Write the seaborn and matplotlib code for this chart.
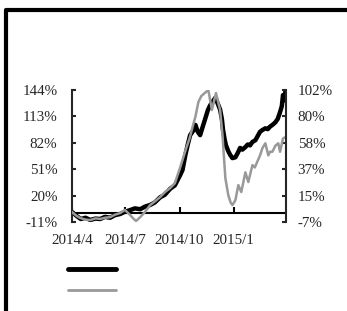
# %% Requirements and constants
import numpy as np
import pandas as pd
import seaborn as sns
import matplotlib.pyplot as plt
from matplotlib.lines import Line2D

start = pd.Timestamp('2014-04-01')

# black series (left axis, %), day offsets from 2014-04-01
black_days = [0, 8, 15, 23, 31, 40, 48, 56, 65, 73, 82, 90, 99, 107, 116, 124, 133, 141,
              150, 158, 167, 175, 184, 188, 193, 197, 201, 206, 210, 214, 218, 222, 227,
              231, 235, 240, 244, 248, 252, 255, 257, 260, 262, 266, 269, 273, 278, 282,
              286, 290, 295, 299, 303, 307, 312, 316, 320, 324, 329, 333, 337, 341, 346,
              350, 354, 357, 359, 361, 363]
black_vals = [0.8, -4, -7.5, -6, -8.6, -7, -7.5, -5, -6, -3, -1.6, 1, 3, 5, 4, 7, 9, 12,
              18, 21, 28, 32, 44, 50, 68, 80, 91, 96, 103, 95, 91, 100, 111, 120, 126,
              131, 135, 128, 121, 110, 97, 85, 79, 72, 68, 64, 65, 70, 76, 74, 77, 80,
              79, 83, 85, 90, 95, 97, 99, 98, 101, 103, 106, 110, 118, 125, 138, 132, 142]

# gray series (right axis, %)
gray_days = [0, 8, 14, 23, 31, 40, 48, 56, 65, 73, 82, 90, 99, 104, 109, 116, 124, 133,
             141, 150, 158, 167, 175, 184, 193, 200, 206, 210, 215, 220, 227, 232, 238,
             245, 252, 256, 261, 266, 270, 273, 278, 283, 288, 295, 300, 307, 311, 315,
             320, 324, 329, 334, 337, 341, 346, 351, 354, 359, 363]
gray_vals = [1.2, -2, -3.7, -5, -5.4, -4, -4.5, -3.5, -3, -1, 0.4, 3, -1.3, -4, -6.2,
             -3, 1.2, 7, 10, 13.6, 17.7, 21, 25, 38, 52, 62, 73, 80, 92, 97, 100, 102,
             85.5, 99.5, 85.5, 65, 29, 15, 9, 7, 11, 23.5, 17.7, 34, 26, 40, 38, 42.5,
             48, 54, 58, 48, 51, 51, 56, 58, 51, 62, 63]

left_ticks = [-11, 20, 51, 82, 113, 144]
right_lim = (-7, 102)
date_ticks = ['2014-04-01', '2014-07-01', '2014-10-01', '2015-01-01']
date_labels = ['2014/4', '2014/7', '2014/10', '2015/1']

black = pd.DataFrame({'date': start + pd.to_timedelta(black_days, unit='D'), 'v': black_vals})
gray = pd.DataFrame({'date': start + pd.to_timedelta(gray_days, unit='D'), 'v': gray_vals})

# %% Plot
sns.set_style('white')
plt.rcParams['font.family'] = ['Liberation Serif', 'DejaVu Serif']
plt.rcParams['font.size'] = 10.8

fig = plt.figure(figsize=(3.47, 3.11), dpi=100)
ax = fig.add_axes([0.2075, 0.2862, 0.6165, 0.4244])
ax2 = ax.twinx()

sns.lineplot(data=black, x='date', y='v', ax=ax, color='black', lw=3.2)
sns.lineplot(data=gray, x='date', y='v', ax=ax2, color='#999999', lw=1.8)

ax.set_xlim(start, pd.Timestamp('2015-03-31'))
ax.set_ylim(left_ticks[0], left_ticks[-1])
ax.set_yticks(left_ticks)
ax.set_yticklabels([f'{t}%' for t in left_ticks])
ax2.set_ylim(*right_lim)
rt = np.linspace(right_lim[0], right_lim[1], 6)
ax2.set_yticks(rt)
ax2.set_yticklabels([f'{t:.0f}%' for t in rt])

xt = pd.to_datetime(date_ticks)
ax.set_xticks(xt)
ax.set_xticklabels(date_labels)
ax.set_xlabel('')
ax.set_ylabel('')
ax2.set_ylabel('')

for a in (ax, ax2):
    for s in a.spines.values():
        s.set_visible(False)
ax.spines['left'].set_visible(True)
ax.spines['left'].set_linewidth(1.5)
ax2.spines['right'].set_visible(True)
ax2.spines['right'].set_linewidth(1.5)

ax.tick_params(axis='y', direction='in', length=3, width=1.5, pad=10.5, left=True)
ax2.tick_params(axis='y', direction='in', length=3, width=1.5, pad=8.5, right=True)
ax.tick_params(axis='x', length=0, pad=8.5)

# zero line with upward tick marks
ax.axhline(0, color='black', lw=1.5, zorder=1)
ax.plot(xt, np.zeros(len(xt)), ls='none', marker=2, ms=4, mew=1.5, color='black', zorder=1)

handles = [Line2D([], [], color='black', lw=3.5), Line2D([], [], color='#999999', lw=2)]
fig.legend(handles, ['', ''], loc='upper left', bbox_to_anchor=(0.175, 0.177),
           frameon=False, handlelength=3.2, labelspacing=0.5, borderpad=0)

# frame fragment
fig.add_artist(Line2D([0.0173, 0.0173, 1.0], [0.0, 0.968, 0.968],
                      transform=fig.transFigure, color='black', lw=3))

fig.savefig('out.png', dpi=100)
